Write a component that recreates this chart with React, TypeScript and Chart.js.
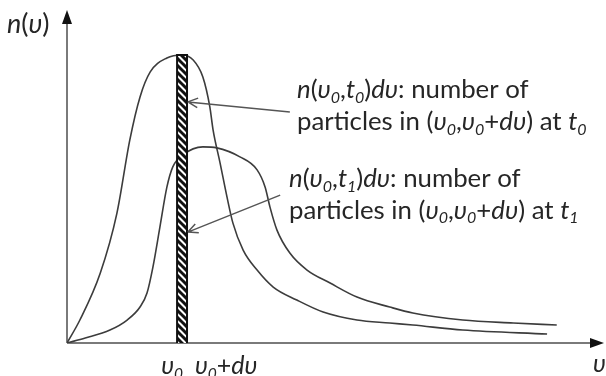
import React, { useEffect, useRef } from "react";
import { Chart, registerables } from "chart.js";

Chart.register(...registerables);

// speed (x) and particle density (y), arbitrary units
const t0Speed = [0, 2.4, 6.2, 9.3, 11.7, 13.6, 15.5, 18.6, 21.4, 23.5, 25.3, 26.6, 27.2, 28.5, 29.8, 30.9, 32.8, 35.4, 38.4, 42.8, 47.7, 54.0, 60.1, 64.4, 73.7, 89.4];
const t0Count = [0, 6.9, 21.0, 39.0, 61.0, 73.9, 81.4, 85.6, 86.5, 85.0, 79.9, 70.9, 64.0, 54.1, 43.8, 36.0, 27.9, 21.9, 16.8, 12.9, 9.3, 6.9, 6.0, 5.4, 3.9, 2.7];
const t1Speed = [0, 3.4, 8.0, 11.2, 13.6, 14.9, 16.0, 17.3, 18.6, 19.7, 21.6, 25.3, 27.9, 32.2, 35.4, 36.9, 37.8, 39.1, 41.5, 44.7, 49.0, 54.0, 60.1, 64.4, 73.7, 83.1, 91.2];
const t1Count = [0, 1.5, 3.9, 6.9, 10.8, 15.0, 22.8, 34.8, 46.8, 52.9, 56.5, 58.9, 58.6, 55.9, 52.0, 46.8, 40.8, 33.9, 27.0, 21.9, 18.0, 13.8, 10.8, 9.0, 6.9, 6.0, 5.4];

// the speed bin (υ0, υ0+dυ)
const binStart = 20.5;
const binWidth = 1.85;
const binTop = 86.5;

// annotation arrows: tail -> head, in data units
const arrowTails = [[41.5, 69.4], [39.7, 44.4]];
const arrowHeads = [[22.5, 72.4], [22.5, 33.3]];

type Seg = [string, boolean, boolean];
const N = (t: string): Seg => [t, false, false];
const I = (t: string): Seg => [t, true, false];
const S = (t: string): Seg => [t, true, true];

const noteT0a: Seg[] = [I("n"), N("("), I("υ"), S("0"), N(","), I("t"), S("0"), N(")"), I("dυ"), N(": number of")];
const noteT0b: Seg[] = [N("particles in ("), I("υ"), S("0"), N(","), I("υ"), S("0"), N("+"), I("dυ"), N(") at "), I("t"), S("0")];
const noteT1a: Seg[] = [I("n"), N("("), I("υ"), S("0"), N(","), I("t"), S("1"), N(")"), I("dυ"), N(": number of")];
const noteT1b: Seg[] = [N("particles in ("), I("υ"), S("0"), N(","), I("υ"), S("0"), N("+"), I("dυ"), N(") at "), I("t"), S("1")];
const tickLow: Seg[] = [I("υ"), S("0")];
const tickHigh: Seg[] = [I("υ"), S("0"), N("+"), I("dυ")];
const yTitle: Seg[] = [I("n"), N("("), I("υ"), N(")")];
const xTitle: Seg[] = [I("υ")];

const FAMILY = "Lato, 'Noto Sans', 'DejaVu Sans', sans-serif";
const TEXT = "#262626";

function richWidth(ctx: CanvasRenderingContext2D, segs: Seg[], size: number) {
  let w = 0;
  for (const [t, it, sub] of segs) {
    const s = sub ? size * 0.62 : size;
    ctx.font = `${it ? "italic " : ""}${s}px ${FAMILY}`;
    w += ctx.measureText(t).width;
  }
  return w;
}

function drawRich(ctx: CanvasRenderingContext2D, segs: Seg[], x: number, y: number, size: number, align: "left" | "right" = "left") {
  let cx = align === "right" ? x - richWidth(ctx, segs, size) : x;
  ctx.textAlign = "left";
  ctx.textBaseline = "alphabetic";
  ctx.fillStyle = TEXT;
  for (const [t, it, sub] of segs) {
    const s = sub ? size * 0.62 : size;
    ctx.font = `${it ? "italic " : ""}${s}px ${FAMILY}`;
    ctx.fillText(t, cx, sub ? y + size * 0.18 : y);
    cx += ctx.measureText(t).width;
  }
}

function makeHatch(): CanvasPattern | string {
  const c = document.createElement("canvas");
  c.width = 7;
  c.height = 7;
  const g = c.getContext("2d");
  if (!g) return "#000";
  g.fillStyle = "#fff";
  g.fillRect(0, 0, 7, 7);
  g.strokeStyle = "#111";
  g.lineWidth = 3;
  for (const o of [-7, 0, 7]) {
    g.beginPath();
    g.moveTo(o - 1, -1);
    g.lineTo(o + 8, 8);
    g.stroke();
  }
  const p = g.createPattern(c, "repeat");
  return p || "#000";
}

const decorPlugin = {
  id: "decor",
  beforeDatasetsDraw(chart: any) {
    const { ctx, chartArea: a } = chart;
    ctx.save();
    ctx.strokeStyle = "#7a7a7a";
    ctx.lineWidth = 2;
    ctx.beginPath();
    ctx.moveTo(a.left, a.bottom);
    ctx.lineTo(a.left, a.top + 4);
    ctx.moveTo(a.left, a.bottom);
    ctx.lineTo(a.right - 4, a.bottom);
    ctx.stroke();
    ctx.fillStyle = "#111";
    ctx.beginPath();
    ctx.moveTo(a.left, a.top);
    ctx.lineTo(a.left - 5, a.top + 14);
    ctx.lineTo(a.left + 5, a.top + 14);
    ctx.closePath();
    ctx.fill();
    ctx.beginPath();
    ctx.moveTo(a.right, a.bottom);
    ctx.lineTo(a.right - 14, a.bottom - 5);
    ctx.lineTo(a.right - 14, a.bottom + 5);
    ctx.closePath();
    ctx.fill();
    ctx.restore();
  },
  afterDatasetsDraw(chart: any) {
    const { ctx, chartArea: a } = chart;
    const xs = chart.scales.x;
    const ys = chart.scales.y;
    ctx.save();
    // arrows
    ctx.strokeStyle = "#555";
    ctx.lineWidth = 1.5;
    for (let i = 0; i < arrowTails.length; i++) {
      const x1 = xs.getPixelForValue(arrowTails[i][0]);
      const y1 = ys.getPixelForValue(arrowTails[i][1]);
      const x2 = xs.getPixelForValue(arrowHeads[i][0]);
      const y2 = ys.getPixelForValue(arrowHeads[i][1]);
      const ang = Math.atan2(y1 - y2, x1 - x2);
      ctx.beginPath();
      ctx.moveTo(x1, y1);
      ctx.lineTo(x2, y2);
      for (const d of [-0.45, 0.45]) {
        ctx.moveTo(x2, y2);
        ctx.lineTo(x2 + 11 * Math.cos(ang + d), y2 + 11 * Math.sin(ang + d));
      }
      ctx.stroke();
    }
    const size = 25.8;
    // annotations
    drawRich(ctx, noteT0a, 297, 98, size);
    drawRich(ctx, noteT0b, 297, 130, size);
    drawRich(ctx, noteT1a, 289, 187, size);
    drawRich(ctx, noteT1b, 289, 218.5, size);
    // bin labels
    const pLow = xs.getPixelForValue(binStart);
    const pHigh = xs.getPixelForValue(binStart + binWidth);
    drawRich(ctx, tickLow, pLow + 6, a.bottom + 31, 25, "right");
    drawRich(ctx, tickHigh, pHigh + 8, a.bottom + 31, 25);
    // axis titles
    drawRich(ctx, yTitle, 7, 33, 27);
    drawRich(ctx, xTitle, a.right - 11, a.bottom + 29, 25);
    ctx.restore();
  },
};

export default function App() {
  const ref = useRef<HTMLCanvasElement | null>(null);
  useEffect(() => {
    document.body.style.margin = "0";
    const canvas = ref.current;
    if (!canvas) return;
    const hatch = makeHatch();
    const chart = new Chart(canvas, {
      type: "line",
      data: {
        datasets: [
          {
            label: "bin",
            data: [
              { x: binStart, y: 0 },
              { x: binStart, y: binTop },
              { x: binStart + binWidth, y: binTop },
              { x: binStart + binWidth, y: 0 },
            ],
            borderColor: "#111",
            borderWidth: 2,
            backgroundColor: hatch as any,
            fill: "origin",
            tension: 0,
            order: 0,
          },
          {
            label: "t0",
            data: t0Speed.map((x, i) => ({ x, y: t0Count[i] })),
            borderColor: "#3c3c3c",
            borderWidth: 1.6,
            fill: false,
            cubicInterpolationMode: "monotone",
            order: 2,
          },
          {
            label: "t1",
            data: t1Speed.map((x, i) => ({ x, y: t1Count[i] })),
            borderColor: "#3c3c3c",
            borderWidth: 1.6,
            fill: false,
            cubicInterpolationMode: "monotone",
            order: 1,
          },
        ],
      },
      options: {
        animation: false,
        responsive: false,
        devicePixelRatio: 1,
        layout: { padding: { left: 67, top: 10, right: 2, bottom: 33 } },
        elements: { point: { radius: 0 } },
        scales: {
          x: { type: "linear", min: 0, max: 100, display: false },
          y: { type: "linear", min: 0, max: 100, display: false },
        },
        plugins: { legend: { display: false }, tooltip: { enabled: false } },
      },
      plugins: [decorPlugin],
    });
    return () => chart.destroy();
  }, []);
  return (
    <div style={{ width: 606, height: 376, background: "#fff" }}>
      <canvas ref={ref} width={606} height={376} />
    </div>
  );
}
